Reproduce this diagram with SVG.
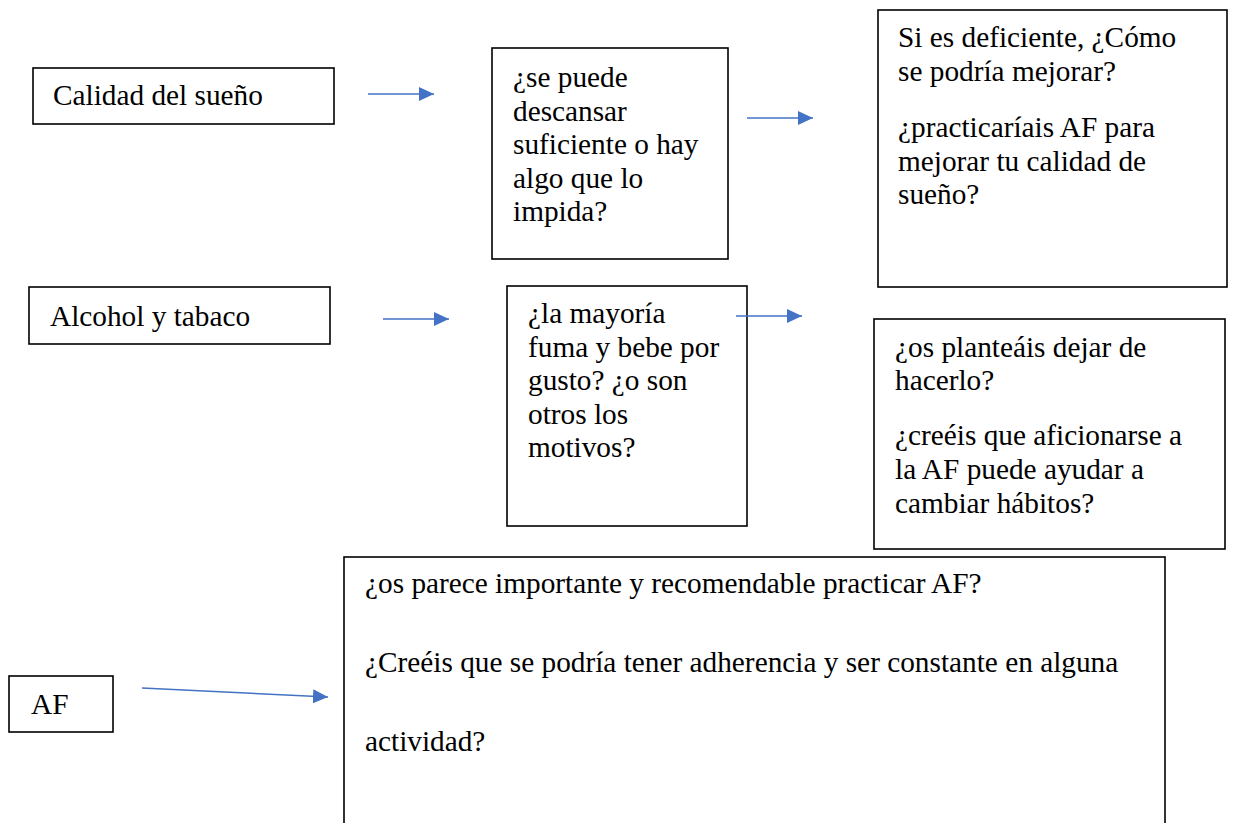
<svg xmlns="http://www.w3.org/2000/svg" width="1234" height="823" viewBox="0 0 1234 823">
<style>
.box{fill:#fff;stroke:#000;stroke-width:1.6}
.t{font-family:'Liberation Serif',serif;font-size:29.3px;fill:#000}
.c{stroke:#4472C4;stroke-width:1.5;fill:none}
</style>
<defs>
<marker id="ah" markerUnits="userSpaceOnUse" markerWidth="16" markerHeight="15" refX="15" refY="7" orient="auto">
<path d="M0,0 L15,7 L0,14 z" fill="#4472C4"/>
</marker>
</defs>
<rect width="1234" height="823" fill="#fff"/>
<g id="n-calidad">
<rect class="box" x="33" y="68" width="301" height="56"/>
<text class="t" x="53" y="105">Calidad del sueño</text>
</g>
<g id="n-descansar">
<rect class="box" x="492" y="48" width="236" height="211"/>
<text class="t" x="513" y="87">¿se puede</text>
<text class="t" x="513" y="120.5">descansar</text>
<text class="t" x="513" y="154">suficiente o hay</text>
<text class="t" x="513" y="187.5">algo que lo</text>
<text class="t" x="513" y="221">impida?</text>
</g>
<g id="n-mejorar">
<rect class="box" x="878" y="10" width="349" height="277"/>
<text class="t" x="898" y="47">Si es deficiente, ¿Cómo</text>
<text class="t" x="898" y="81">se podría mejorar?</text>
<text class="t" x="898" y="137">¿practicaríais AF para</text>
<text class="t" x="898" y="170.5">mejorar tu calidad de</text>
<text class="t" x="898" y="204">sueño?</text>
</g>
<g id="n-alcohol">
<rect class="box" x="29" y="287" width="301" height="57"/>
<text class="t" x="50" y="326">Alcohol y tabaco</text>
</g>
<g id="n-mayoria">
<rect class="box" x="507" y="286" width="240" height="240"/>
<text class="t" x="528" y="323">¿la mayoría</text>
<text class="t" x="528" y="356.5">fuma y bebe por</text>
<text class="t" x="528" y="390">gusto? ¿o son</text>
<text class="t" x="528" y="423.5">otros los</text>
<text class="t" x="528" y="457">motivos?</text>
</g>
<g id="n-dejar">
<rect class="box" x="874" y="319" width="351" height="230"/>
<text class="t" x="895" y="357">¿os planteáis dejar de</text>
<text class="t" x="895" y="390">hacerlo?</text>
<text class="t" x="895" y="445">¿creéis que aficionarse a</text>
<text class="t" x="895" y="479">la AF puede ayudar a</text>
<text class="t" x="895" y="513">cambiar hábitos?</text>
</g>
<g id="n-af">
<rect class="box" x="9" y="676" width="104" height="56"/>
<text class="t" x="31" y="714">AF</text>
</g>
<g id="n-importante">
<rect class="box" x="344" y="557" width="821" height="280"/>
<text class="t" x="365" y="593">¿os parece importante y recomendable practicar AF?</text>
<text class="t" x="365" y="672">¿Creéis que se podría tener adherencia y ser constante en alguna</text>
<text class="t" x="365" y="751">actividad?</text>
</g>
<g id="connectors">
<line class="c" x1="368" y1="94" x2="434" y2="94" marker-end="url(#ah)"/>
<line class="c" x1="747" y1="118" x2="813" y2="118" marker-end="url(#ah)"/>
<line class="c" x1="383" y1="319" x2="449" y2="319" marker-end="url(#ah)"/>
<line class="c" x1="736" y1="316" x2="802" y2="316" marker-end="url(#ah)"/>
<line class="c" x1="142" y1="688" x2="328" y2="697" marker-end="url(#ah)"/>
</g>
</svg>
